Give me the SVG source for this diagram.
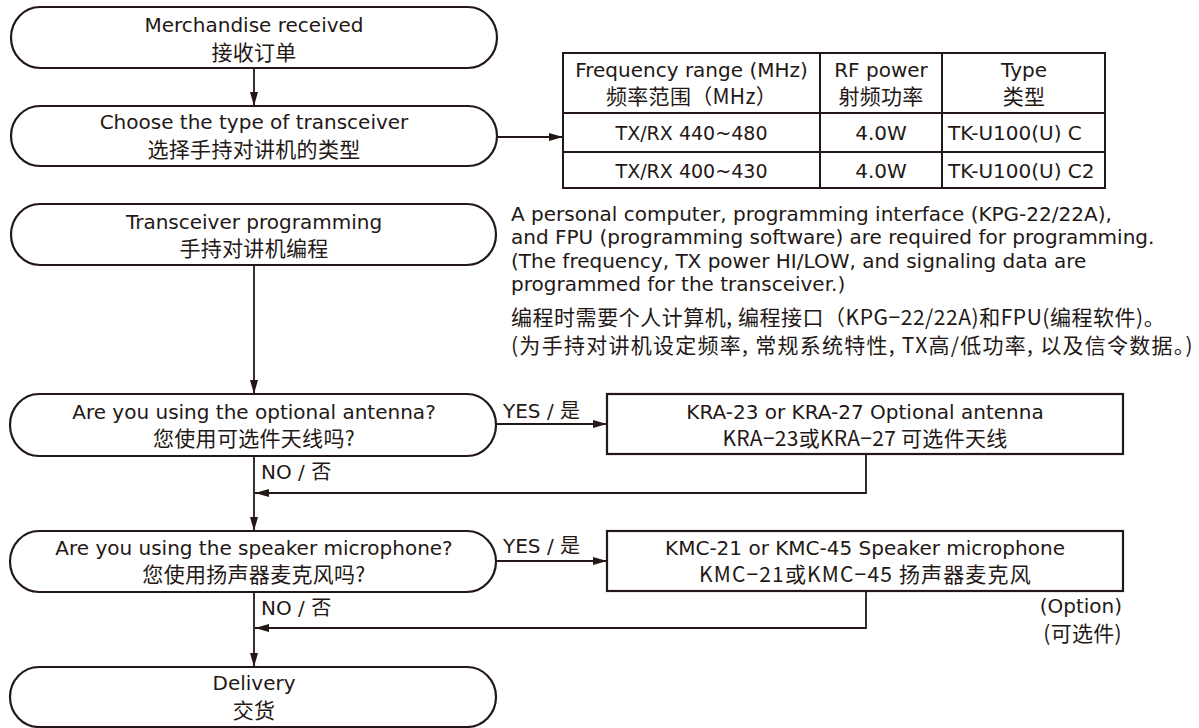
<svg xmlns="http://www.w3.org/2000/svg" width="1199" height="728" viewBox="0 0 1199 728">
<style>
.bg{fill:#ffffff}
.node{fill:#ffffff;stroke:#231815;stroke-width:2.2}
.box{fill:#ffffff;stroke:#231815;stroke-width:2.2}
.grid{fill:none;stroke:#231815;stroke-width:2}
.conn{fill:none;stroke:#231815;stroke-width:1.8}
.en{font-family:"DejaVu Sans","Noto Sans CJK SC",sans-serif;font-size:20px;fill:#231815}
.cn{font-family:"Noto Sans CJK SC","DejaVu Sans",sans-serif;font-size:21px;fill:#231815;letter-spacing:0.3px}
.c{text-anchor:middle}
</style>
<defs>
<marker id="ah" viewBox="0 0 14 8" refX="14" refY="4" markerWidth="14" markerHeight="8" markerUnits="userSpaceOnUse" orient="auto">
<path d="M0,0 L14,4 L0,8 z" fill="#231815"/>
</marker>
</defs>
<rect class="bg" x="0" y="0" width="1199" height="728"/>

<g id="connectors">
<line class="conn" x1="254" y1="68" x2="254" y2="106" marker-end="url(#ah)"/>
<line class="conn" x1="497" y1="137" x2="563" y2="137" marker-end="url(#ah)"/>
<line class="conn" x1="254" y1="265" x2="254" y2="394" marker-end="url(#ah)"/>
<line class="conn" x1="496" y1="424" x2="607" y2="424" marker-end="url(#ah)"/>
<line class="conn" x1="254" y1="456" x2="254" y2="531" marker-end="url(#ah)"/>
<polyline class="conn" points="866,454 866,493 255,493" marker-end="url(#ah)"/>
<line class="conn" x1="496" y1="561" x2="607" y2="561" marker-end="url(#ah)"/>
<line class="conn" x1="254" y1="592" x2="254" y2="667" marker-end="url(#ah)"/>
<polyline class="conn" points="866,591 866,628 255,628" marker-end="url(#ah)"/>
</g>

<g id="n1">
<rect class="node" x="11" y="7" width="486" height="61" rx="29" ry="30.5"/>
<text class="en c" x="254" y="32">Merchandise received</text>
<text class="cn c" x="254" y="60">接收订单</text>
</g>

<g id="n2">
<rect class="node" x="11" y="106" width="486" height="60" rx="29" ry="30"/>
<text class="en c" x="254" y="129">Choose the type of transceiver</text>
<text class="cn c" x="254" y="157">选择手持对讲机的类型</text>
</g>

<g id="table">
<rect class="grid" x="563" y="53" width="542" height="135"/>
<line class="grid" x1="563" y1="113" x2="1105" y2="113"/>
<line class="grid" x1="563" y1="152" x2="1105" y2="152"/>
<line class="grid" x1="820" y1="53" x2="820" y2="188"/>
<line class="grid" x1="942" y1="53" x2="942" y2="188"/>
<text class="en c" x="691.5" y="77">Frequency range (MHz)</text>
<text class="cn c" x="691.5" y="104">频率范围（MHz）</text>
<text class="en c" x="881" y="77">RF power</text>
<text class="cn c" x="881" y="104">射频功率</text>
<text class="en c" x="1024" y="77">Type</text>
<text class="cn c" x="1024" y="104">类型</text>
<text class="en c" x="691.5" y="140" textLength="152" lengthAdjust="spacingAndGlyphs">TX/RX 440~480</text>
<text class="en c" x="881" y="140">4.0W</text>
<text class="en" x="948" y="140">TK-U100(U) C</text>
<text class="en c" x="691.5" y="178" textLength="152" lengthAdjust="spacingAndGlyphs">TX/RX 400~430</text>
<text class="en c" x="881" y="178">4.0W</text>
<text class="en" x="948" y="178">TK-U100(U) C2</text>
</g>

<g id="n3">
<rect class="node" x="11" y="204" width="485" height="61" rx="29" ry="30.5"/>
<text class="en c" x="254" y="229">Transceiver programming</text>
<text class="cn c" x="254" y="256">手持对讲机编程</text>
</g>

<g id="note">
<text class="en" x="511" y="221">A personal computer, programming interface (KPG-22/22A),</text>
<text class="en" x="511" y="244">and FPU (programming software) are required for programming.</text>
<text class="en" x="511" y="268">(The frequency, TX power HI/LOW, and signaling data are</text>
<text class="en" x="511" y="291">programmed for the transceiver.)</text>
<text class="cn" x="511" y="325" textLength="654" lengthAdjust="spacing">编程时需要个人计算机, 编程接口（KPG−22/22A)和FPU(编程软件)。</text>
<text class="cn" x="511" y="353" textLength="682" lengthAdjust="spacing">(为手持对讲机设定频率, 常规系统特性, TX高/低功率, 以及信令数据。)</text>
</g>

<g id="n4">
<rect class="node" x="10" y="394" width="486" height="62" rx="29" ry="31"/>
<text class="en c" x="254" y="419">Are you using the optional antenna?</text>
<text class="cn c" x="254" y="446">您使用可选件天线吗?</text>
</g>

<g id="kra">
<rect class="box" x="607" y="394" width="516" height="60"/>
<text class="en c" x="865" y="419">KRA-23 or KRA-27 Optional antenna</text>
<text class="cn c" x="865" y="446" textLength="285" lengthAdjust="spacing">KRA−23或KRA−27 可选件天线</text>
</g>

<g id="n5">
<rect class="node" x="10" y="531" width="486" height="61" rx="29" ry="30.5"/>
<text class="en c" x="254" y="555">Are you using the speaker microphone?</text>
<text class="cn c" x="254" y="582">您使用扬声器麦克风吗?</text>
</g>

<g id="kmc">
<rect class="box" x="607" y="531" width="516" height="60"/>
<text class="en c" x="865" y="555">KMC-21 or KMC-45 Speaker microphone</text>
<text class="cn c" x="865" y="582" textLength="332" lengthAdjust="spacing">KMC−21或KMC−45 扬声器麦克风</text>
</g>

<g id="n6">
<rect class="node" x="10" y="667" width="486" height="60" rx="29" ry="30"/>
<text class="en c" x="254" y="690">Delivery</text>
<text class="cn c" x="254" y="718">交货</text>
</g>

<g id="labels">
<text class="en" x="503" y="418">YES / 是</text>
<text class="en" x="261" y="479">NO / 否</text>
<text class="en" x="503" y="553">YES / 是</text>
<text class="en" x="261" y="615">NO / 否</text>
<text class="en" x="1122" y="613" text-anchor="end">(Option)</text>
<text class="cn" x="1122" y="641" text-anchor="end">(可选件)</text>
</g>
</svg>
